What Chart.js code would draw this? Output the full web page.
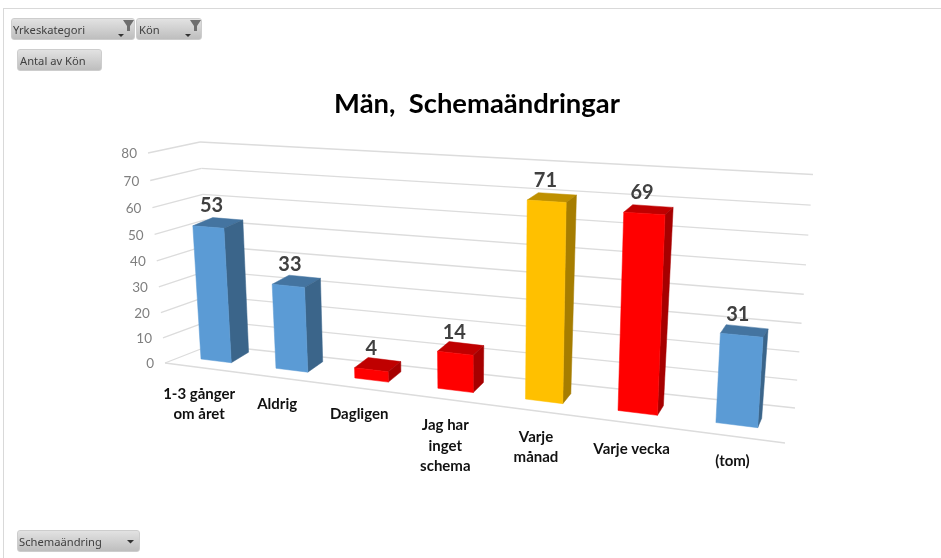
<!DOCTYPE html>
<html lang="sv"><head><meta charset="utf-8">
<style>
html,body{margin:0;padding:0;background:#fff;width:941px;height:558px;overflow:hidden}
#wrap{position:absolute;left:0;top:0;width:941px;height:558px}
.frame{position:absolute;background:#d9d9d9}
.btn{position:absolute;box-sizing:border-box;border-radius:3px;background:linear-gradient(#e2e2e2,#bebebe);border:1px solid #cdcdcd;color:#404040;font:11.2px "Noto Sans",sans-serif;line-height:21px;padding-left:1px;white-space:nowrap}
.btn svg{position:absolute;left:0;top:0}
</style>
<script src="https://cdn.jsdelivr.net/npm/chart.js@4/dist/chart.umd.js"></script>
</head><body>
<div id="wrap"><canvas id="c" width="941" height="558"></canvas></div>
<div class="frame" style="left:3px;top:8px;width:938px;height:1px"></div>
<div class="frame" style="left:3px;top:8px;width:1px;height:550px"></div>
<div class="btn" style="left:11px;top:18px;width:124px;height:22px">Yrkeskategori<svg width="124" height="22"><path d="M106 15h6l-3 3z" fill="#333"/><path d="M111 1h11l-4 6v5h-3v-5z" fill="#6e6e6e"/></svg></div>
<div class="btn" style="left:136px;top:18px;width:66px;height:22px;padding-left:2px">Kön<svg width="66" height="22"><path d="M48 15h6l-3 3z" fill="#333"/><path d="M53 1h11l-4 6v5h-3v-5z" fill="#6e6e6e"/></svg></div>
<div class="btn" style="left:17px;top:49px;width:85px;height:22px;padding-left:2px">Antal av Kön</div>
<div class="btn" style="left:17px;top:530px;width:123px;height:22px">Schemaändring<svg width="123" height="22"><path d="M109 9h7l-3.5 3.5z" fill="#333"/></svg></div>
<script>
const titleText = 'Män,  Schemaändringar';
const categories = [['1-3 gånger','om året'],'Aldrig','Dagligen',['Jag har','inget','schema'],['Varje','månad'],'Varje vecka','(tom)'];
const values = [53,33,4,14,71,69,31];
const barColors = ['#5b9bd5','#5b9bd5','#ff0000','#ff0000','#ffc000','#ff0000','#5b9bd5'];
const axisMax = 80, axisStep = 10;

/* projection of the library's plot rectangle onto the tilted 3D box */
function quad(p){ // unit square -> quad (p00,p10,p11,p01)
  const [a,b,c,d]=p;
  const dx1=b[0]-c[0],dx2=d[0]-c[0],sx=a[0]-b[0]+c[0]-d[0];
  const dy1=b[1]-c[1],dy2=d[1]-c[1],sy=a[1]-b[1]+c[1]-d[1];
  const den=dx1*dy2-dx2*dy1;
  const g=(sx*dy2-dx2*sy)/den,h=(dx1*sy-sx*dy1)/den;
  return {a:b[0]-a[0]+g*b[0],b:d[0]-a[0]+h*d[0],c:a[0],d:b[1]-a[1]+g*b[1],e:d[1]-a[1]+h*d[1],f:a[1],g,h};
}
function ap(H,u,n){const w=H.g*u+H.h*n+1;return [(H.a*u+H.b*n+H.c)/w,(H.d*u+H.e*n+H.f)/w];}
const barPct=0.41, uL=(0.5-barPct/2)/7, uR=(6.5+barPct/2)/7;
const Hfront=quad([[201,359],[757.7,427.7],[772,187],[188.5,155]]);
const Hback =quad([[219.3,348.4],[761.7,418.3],[778.7,180],[209.3,148]]);
const Hwall =quad([[211,345],[795,408],[813,174.5],[200,142]]);
const Hbox  =quad([[165,363],[785,443],[806,190],[148,153]]);
let area=null;
const un=(px,py)=>[(px-area.left)/area.width,(area.bottom-py)/area.height];
const pF=(px,py)=>{const [u,n]=un(px,py);return ap(Hfront,(u-uL)/(uR-uL),n);};
const pB=(px,py)=>{const [u,n]=un(px,py);return ap(Hback,(u-uL)/(uR-uL),n);};
function shade(hex,k){const v=parseInt(hex.slice(1),16);return `rgb(${Math.round((v>>16)*k)},${Math.round(((v>>8)&255)*k)},${Math.round((v&255)*k)})`;}
function poly(ctx,pts,fill){ctx.beginPath();pts.forEach((p,i)=>i?ctx.lineTo(p[0],p[1]):ctx.moveTo(p[0],p[1]));ctx.closePath();ctx.fillStyle=fill;ctx.fill();ctx.strokeStyle=fill;ctx.lineWidth=0.5;ctx.stroke();}

class Bar3D extends Chart.BarElement{
  static id='bar3d';
  draw(ctx){
    const {x,y,base,width,options}=this, l=x-width/2, r=x+width/2, col=options.backgroundColor;
    poly(ctx,[pF(l,y),pF(r,y),pB(r,y),pB(l,y)],shade(col,0.75));
    poly(ctx,[pF(r,base),pF(r,y),pB(r,y),pB(r,base)],shade(col,0.65));
    poly(ctx,[pF(l,base),pF(r,base),pF(r,y),pF(l,y)],col);
  }
}
Chart.register(Bar3D);
Chart.defaults.datasets.bar.dataElementType='bar3d';

const box3d={id:'box3d',
  beforeDatasetsDraw(chart){
    area=chart.chartArea;
    const {ctx}=chart, ys=chart.scales.y;
    ctx.save();ctx.strokeStyle='#dcdcdc';ctx.lineWidth=1.3;
    const seg=(a,b)=>{ctx.beginPath();ctx.moveTo(a[0],a[1]);ctx.lineTo(b[0],b[1]);ctx.stroke();};
    ctx.font='13.5px Lato';ctx.fillStyle='#7f7f7f';ctx.textAlign='right';ctx.textBaseline='middle';
    ys.ticks.forEach(t=>{
      const n=(area.bottom-ys.getPixelForValue(t.value))/area.height;
      const f=ap(Hbox,0,n),bl=ap(Hwall,0,n),br=ap(Hwall,1,n);
      seg(f,bl);seg(bl,br);
      ctx.fillText(t.label,f[0]-11,f[1]+1);
    });
    seg(ap(Hbox,0,0),ap(Hbox,1,0));
    ctx.restore();
  },
  afterDatasetsDraw(chart){
    const {ctx}=chart, xs=chart.scales.x, meta=chart.getDatasetMeta(0);
    ctx.save();ctx.textAlign='center';
    meta.data.forEach((bar,i)=>{
      const F=pF(bar.x,bar.y),B=pB(bar.x,bar.y);
      ctx.font='bold 20px Lato';ctx.fillStyle='#404040';ctx.textBaseline='middle';
      ctx.fillText(String(values[i]),F[0]+0.5*(B[0]-F[0])-6.5,F[1]-21);
      const f0=pF(bar.x,bar.base),b0=pB(bar.x,bar.base);
      const lx=f0[0]+0.95*(f0[0]-b0[0]), ly=f0[1]+0.85*(f0[1]-b0[1])+16+(i-2.5)*0.6;
      const lab=xs.getLabelForValue(i), lines=Array.isArray(lab)?lab:[lab];
      ctx.font='bold 15px Lato';ctx.fillStyle='#111';
      lines.forEach((s,k)=>ctx.fillText(s,lx,ly+10+k*20.3));
    });
    ctx.restore();
  }
};

new Chart(document.getElementById('c'),{
  type:'bar',
  data:{labels:categories,datasets:[{label:'Antal av Kön',data:values,backgroundColor:barColors,barPercentage:barPct,categoryPercentage:1}]},
  plugins:[box3d],
  options:{
    responsive:false,animation:false,
    layout:{padding:{left:13,right:0,top:88,bottom:20}},
    plugins:{legend:{display:false},tooltip:{enabled:false},
      title:{display:true,text:titleText,color:'#000',font:{family:'Lato',size:27.4,weight:'bold'},padding:{top:0,bottom:10}}},
    scales:{
      x:{type:'category',grid:{display:false},border:{display:false},ticks:{display:false}},
      y:{type:'linear',min:0,max:axisMax,grid:{display:false},border:{display:false},ticks:{display:false,stepSize:axisStep}}
    }
  }
});
</script>
</body></html>
